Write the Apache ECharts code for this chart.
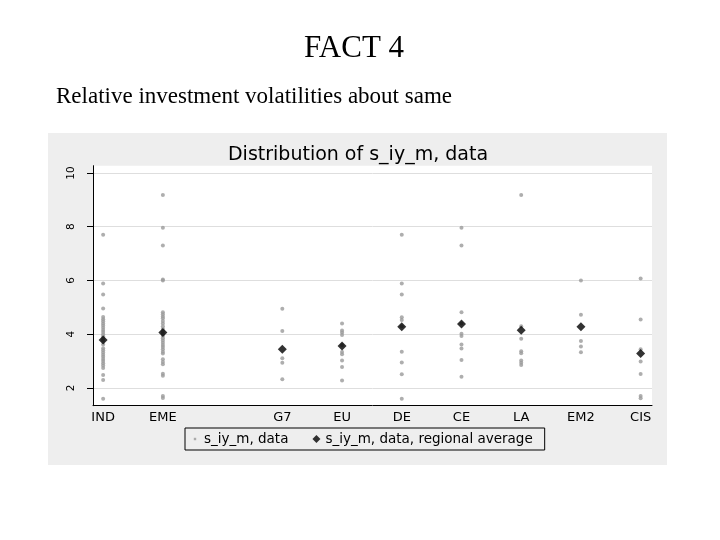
<!DOCTYPE html>
<html>
<head>
<meta charset="utf-8">
<script src="https://cdn.jsdelivr.net/npm/echarts@6/dist/echarts.min.js"></script>
<style>
html,body{margin:0;padding:0;background:#fff}
#chart{width:720px;height:540px}
</style>
</head>
<body>
<div id="chart"></div>
<script>
// categories along x, '' is the empty slot between EME and G7
var categories = ['IND', 'EME', '', 'G7', 'EU', 'DE', 'CE', 'LA', 'EM2', 'CIS'];
var yTicks = [2, 4, 6, 8, 10];

// s_iy_m per country, by region
var ind = [7.70, 5.89, 5.48, 4.96, 4.64, 4.56, 4.48, 4.40, 4.32, 4.24, 4.16, 4.08, 4.00, 3.92, 3.84, 3.76, 3.62,
    3.48, 3.40, 3.32, 3.24, 3.16, 3.08, 3.00, 2.92, 2.84, 2.74, 2.48, 2.30, 1.60];
var eme = [9.18, 7.96, 7.30, 6.04, 6.00, 4.82, 4.74, 4.66, 4.59, 4.49, 4.40, 4.30, 4.20, 4.10, 4.02, 3.93, 3.85,
    3.77, 3.68, 3.60, 3.52, 3.44, 3.35, 3.28, 3.07, 2.97, 2.88, 2.53, 2.45, 1.70, 1.63];
var g7 = [4.95, 4.12, 3.11, 2.94, 2.32];
var eu = [4.40, 4.14, 4.06, 3.97, 3.60, 3.34, 3.25, 3.02, 2.78, 2.28];
var de = [7.70, 5.89, 5.48, 4.63, 4.53, 4.30, 3.35, 2.95, 2.51, 1.60];
var ce = [7.96, 7.30, 4.82, 4.40, 4.02, 3.93, 3.62, 3.47, 3.04, 2.42];
var la = [9.18, 4.30, 3.83, 3.37, 3.29, 3.02, 2.94, 2.85];
var em2 = [6.00, 4.72, 3.75, 3.54, 3.33];
var cis = [6.07, 4.55, 3.44, 2.98, 2.52, 1.70, 1.62];
var regionalAverage = [3.78, 4.06, null, 3.44, 3.56, 4.28, 4.38, 4.15, 4.28, 3.28];

var groups = [ind, eme, [], g7, eu, de, ce, la, em2, cis];
var points = [];
groups.forEach(function (g, i) {
    g.forEach(function (v) { points.push([i, v]); });
});
var avgPoints = [];
regionalAverage.forEach(function (v, i) {
    if (v != null) avgPoints.push([i, v]);
});
var labelIdx = [];
categories.forEach(function (c, i) { if (c) labelIdx.push(i); });

var chart = echarts.init(document.getElementById('chart'));
var option = {
    backgroundColor: '#fff',
    animation: false,
    textStyle: { fontFamily: 'DejaVu Sans' },
    graphic: [
        { type: 'rect', z: -10, shape: { x: 48, y: 133, width: 619, height: 332 }, style: { fill: '#eeeeee' } },
        { type: 'rect', z: -9, shape: { x: 93, y: 165.7, width: 559, height: 240 }, style: { fill: '#fff' } },
        {
            type: 'text', x: 354, y: 49,
            style: { text: 'FACT 4', fontFamily: 'Liberation Serif', fontSize: 31, fill: '#000', align: 'center', verticalAlign: 'middle' }
        },
        {
            type: 'text', x: 56, y: 97,
            style: { text: 'Relative investment volatilities about same', fontFamily: 'Liberation Serif', fontSize: 23, fill: '#000', align: 'left', verticalAlign: 'middle' }
        }
    ],
    title: {
        text: 'Distribution of s_iy_m, data',
        left: 358,
        textAlign: 'center',
        top: 146,
        padding: 0,
        textStyle: { fontFamily: 'DejaVu Sans', fontSize: 19, fontWeight: 'normal', color: '#000' }
    },
    legend: {
        left: 185,
        top: 428,
        padding: [4, 12, 4, 6],
        itemGap: 24,
        itemWidth: 8,
        itemHeight: 8,
        borderColor: '#000',
        borderWidth: 1,
        textStyle: { fontFamily: 'DejaVu Sans', fontSize: 13.5, color: '#000' },
        data: [
            { name: 's_iy_m, data', icon: 'path://M0,0M10,10M3.5,3.5h3v3h-3z' },
            { name: 's_iy_m, data, regional average', icon: 'diamond' }
        ]
    },
    grid: { left: 93, right: 68, top: 165.7, bottom: 134.3 },
    xAxis: {
        type: 'value',
        min: -0.17,
        max: 9.19,
        axisLine: { onZero: false, lineStyle: { color: '#000', width: 1 } },
        axisTick: { show: false },
        splitLine: { show: false },
        axisLabel: {
            customValues: labelIdx,
            formatter: function (v) { return categories[v]; },
            color: '#000',
            fontSize: 13,
            margin: 5
        }
    },
    yAxis: {
        type: 'value',
        min: 1.34,
        max: 10.27,
        axisLine: { show: true, onZero: false, lineStyle: { color: '#000', width: 1 } },
        axisTick: { show: true, customValues: yTicks, length: 6, lineStyle: { color: '#000' } },
        splitLine: { show: true, lineStyle: { color: '#dedede', width: 1 } },
        axisLabel: {
            customValues: yTicks,
            rotate: 90,
            color: '#000',
            fontSize: 10.5,
            margin: 16
        }
    },
    series: [
        {
            name: 's_iy_m, data',
            type: 'scatter',
            symbol: 'circle',
            symbolSize: 4,
            itemStyle: { color: '#9a9a9a' },
            data: points
        },
        {
            name: 's_iy_m, data, regional average',
            type: 'scatter',
            symbol: 'diamond',
            symbolSize: 9,
            z: 3,
            itemStyle: { color: '#000' },
            data: avgPoints
        }
    ]
};
chart.setOption(option);
</script>
</body>
</html>
